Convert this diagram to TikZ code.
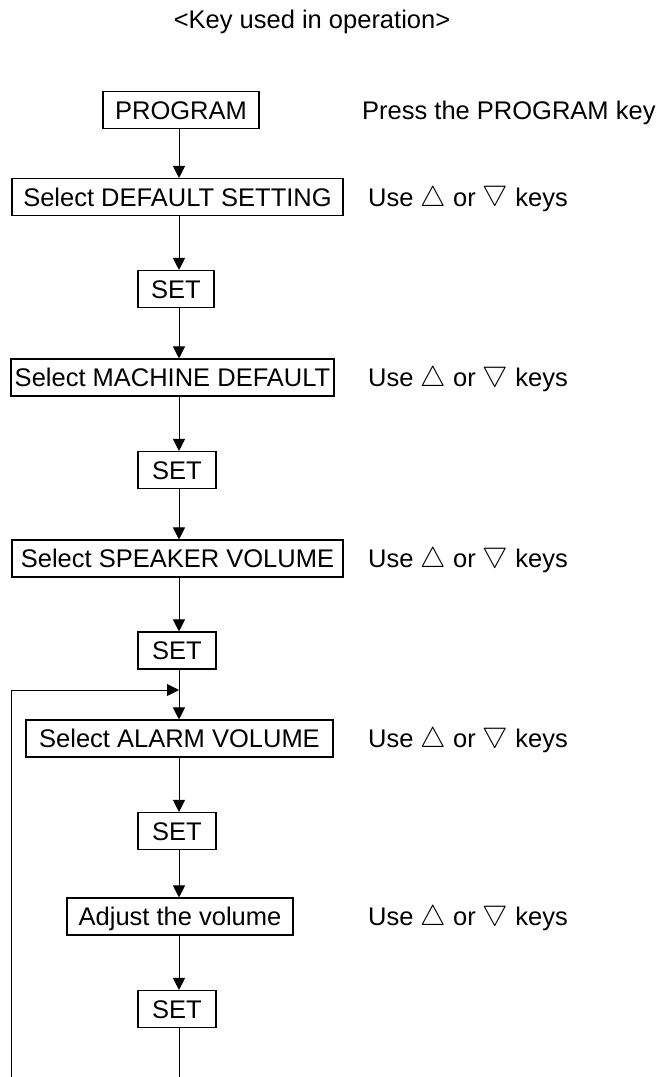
\documentclass[tikz,border=0pt]{standalone}
\usepackage{fontspec}
\setmainfont{Liberation Sans}
\usetikzlibrary{arrows.meta}
\newcommand{\uptri}{\scalebox{1.15}{$\bigtriangleup$}}
\newcommand{\dntri}{\raisebox{0.22em}{\scalebox{1.15}{$\bigtriangledown$}}}
\begin{document}
\begin{tikzpicture}[x=1pt,y=-1pt,
  txt/.style={font=\fontsize{25.5}{30}\selectfont},
  box/.style={txt,draw,line width=1.1pt,minimum height=37pt,inner sep=0pt,text height=18.3pt,text depth=0pt},
  lbl/.style={txt,anchor=base west,inner sep=0pt},
  flow/.style={line width=0.9pt,-{Triangle[length=12pt,width=12pt]}},
  ln/.style={line width=0.9pt}]
\useasboundingbox (0,0) rectangle (664,1077);
\coordinate (sp) at (179,0);

\node[txt,anchor=base,inner sep=0pt] (title) at (312,28) {<Key used in operation>};

\node[box,minimum width=156pt] (prog) at (181,110) {PROGRAM};
\node[box,minimum width=331pt] (def) at (177.5,197) {Select DEFAULT SETTING};
\node[box,minimum width=76pt] (set1) at (176,289) {SET};
\node[box,minimum width=323pt] (mach) at (172.5,377.5) {Select MACHINE DEFAULT};
\node[box,minimum width=78pt] (set2) at (177,470) {SET};
\node[box,minimum width=331pt] (spk) at (177.5,558.5) {Select SPEAKER VOLUME};
\node[box,minimum width=78pt] (set3) at (177,650.5) {SET};
\node[box,minimum width=307pt] (alm) at (179.5,738.5) {Select ALARM VOLUME};
\node[box,minimum width=78pt] (set4) at (177,831) {SET};
\node[box,minimum width=226pt] (adj) at (180,916.5) {Adjust the volume};
\node[box,minimum width=78pt] (set5) at (177,1009) {SET};

\node[lbl] (l0) at (362,119.2) {Press the PROGRAM key};
\node[lbl] (l1) at (368,206.2) {Use \uptri{} or \dntri{} keys};
\node[lbl] (l2) at (368,386.7) {Use \uptri{} or \dntri{} keys};
\node[lbl] (l3) at (368,567.7) {Use \uptri{} or \dntri{} keys};
\node[lbl] (l4) at (368,747.7) {Use \uptri{} or \dntri{} keys};
\node[lbl] (l5) at (368,925.7) {Use \uptri{} or \dntri{} keys};

\draw[flow] (prog.south -| sp) -- (def.north -| sp);
\draw[flow] (def.south -| sp) -- (set1.north -| sp);
\draw[flow] (set1.south -| sp) -- (mach.north -| sp);
\draw[flow] (mach.south -| sp) -- (set2.north -| sp);
\draw[flow] (set2.south -| sp) -- (spk.north -| sp);
\draw[flow] (spk.south -| sp) -- (set3.north -| sp);
\draw[flow] (set3.south -| sp) -- (alm.north -| sp);
\draw[flow] (alm.south -| sp) -- (set4.north -| sp);
\draw[flow] (set4.south -| sp) -- (adj.north -| sp);
\draw[flow] (adj.south -| sp) -- (set5.north -| sp);

\coordinate (bot) at (179,1077);
\coordinate (fbl) at (11,1077);
\coordinate (join) at (179,690);
\draw[ln] (set5.south -| sp) -- (bot);
\draw[flow] (fbl) |- (join);
\end{tikzpicture}
\end{document}
